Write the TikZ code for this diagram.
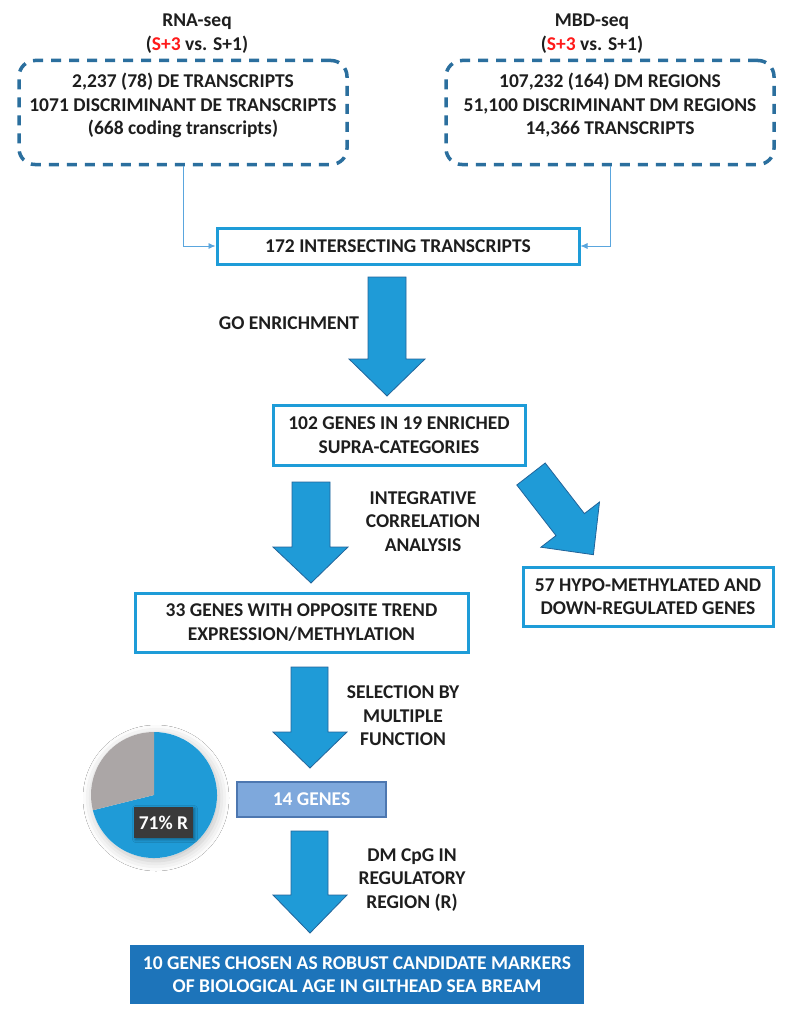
\documentclass[tikz,border=0pt]{standalone}
\usepackage{fontspec}
\setmainfont{Carlito}
\usepackage{tikz}
\usetikzlibrary{arrows.meta,shadows.blur}

\definecolor{inkgrey}{HTML}{1E1E1E}
\definecolor{seqred}{HTML}{FF1A1A}
\definecolor{dashblue}{HTML}{2B6F9E}
\definecolor{boxblue}{HTML}{1E9CD8}
\definecolor{linkblue}{HTML}{5AA6DE}
\definecolor{arrowblue}{HTML}{1F9BD7}
\definecolor{arrowedge}{HTML}{22649A}
\definecolor{genesfill}{HTML}{7EA8DC}
\definecolor{genesedge}{HTML}{4D77B0}
\definecolor{markerfill}{HTML}{1D74BA}
\definecolor{piegrey}{HTML}{ABA6A6}
\definecolor{tagdark}{HTML}{3A3A3A}

\tikzset{
	txt/.style={font=\bfseries\fontsize{19.5}{23.5}\selectfont, text=inkgrey, align=center, inner sep=0pt},
	dashbox/.style={draw=dashblue, line width=3.5pt, dash pattern=on 10pt off 8pt, rounded corners=16pt, minimum width=328pt, minimum height=104pt},
	stepbox/.style={txt, draw=boxblue, line width=3pt},
	link/.style={draw=linkblue, line width=0.8pt, -{Latex[length=7pt,width=6pt]}},
	bigarrow/.style={fill=arrowblue, draw=arrowedge, line width=0.8pt, line join=miter}
}

\begin{document}
\begin{tikzpicture}[x=1pt,y=-1pt]
	\fill[white] (0,0) rectangle (790,1014);
	\useasboundingbox (0,0) rectangle (790,1014);

	% sources
	\node[txt] (rnahead) at (197,33.5) {RNA-seq\\(\textcolor{seqred}{S+3} vs. S+1)};
	\node[txt] (mbdhead) at (592,33.5) {MBD-seq\\(\textcolor{seqred}{S+3} vs. S+1)};

	\node[dashbox] (rnabox) at (183,112.5) {};
	\node[txt] (rnatxt) at (183,105.5) {2,237 (78) DE TRANSCRIPTS\\1071 DISCRIMINANT DE TRANSCRIPTS\\(668 coding transcripts)};
	\node[dashbox] (mbdbox) at (610,112.5) {};
	\node[txt] (mbdtxt) at (610,105.5) {107,232 (164) DM REGIONS\\51,100 DISCRIMINANT DM REGIONS\\14,366 TRANSCRIPTS};

	% steps
	\node[stepbox, minimum width=362pt, minimum height=36pt] (inter) at (398,246) {172 INTERSECTING TRANSCRIPTS};
	\node[stepbox, minimum width=252pt, minimum height=60pt] (enrich) at (399,435) {102 GENES IN 19 ENRICHED\\SUPRA-CATEGORIES};
	\node[stepbox, minimum width=333pt, minimum height=59pt] (trend) at (301.5,622.5) {33 GENES WITH OPPOSITE TREND\\EXPRESSION/METHYLATION};
	\node[stepbox, minimum width=250pt, minimum height=59pt] (hypo) at (648,596.5) {57 HYPO-METHYLATED AND\\DOWN-REGULATED GENES};
	\node[txt, text=white, fill=genesfill, draw=genesedge, line width=1.2pt, minimum width=149pt, minimum height=35pt] (genes) at (311.5,799.5) {14 GENES};
	\node[txt, text=white, fill=markerfill, minimum width=454pt, minimum height=59pt] (markers) at (357,974.5) {10 GENES CHOSEN AS ROBUST CANDIDATE MARKERS\\OF BIOLOGICAL AGE IN GILTHEAD SEA BREAM};

	\draw[link] (rnabox.south) |- (inter.west);
	\draw[link] (mbdbox.south) |- (inter.east);

	% block arrows
	\draw[bigarrow] (368,277) -- (406,277) -- (406,359) -- (425,359) -- (387,396) -- (349,359) -- (368,359) -- cycle;
	\node[txt] (golbl) at (289,323) {GO ENRICHMENT};

	\draw[bigarrow] (292,482) -- (330,482) -- (330,547) -- (348,547) -- (311,583) -- (273,547) -- (292,547) -- cycle;
	\node[txt] (intlbl) at (423,521.5) {INTEGRATIVE\\CORRELATION\\ANALYSIS};

	\draw[bigarrow] (545.2,463.0) -- (584.4,513.6) -- (599.5,502.0) -- (593.4,554.7) -- (540.9,547.2) -- (556.0,535.6) -- (516.8,485.0) -- cycle;

	\draw[bigarrow] (291,667) -- (328,667) -- (328,732) -- (347,732) -- (310,768) -- (273,732) -- (291,732) -- cycle;
	\node[txt] (sellbl) at (403,716) {SELECTION BY\\MULTIPLE\\FUNCTION};

	\draw[bigarrow] (291,831) -- (328,831) -- (328,895) -- (347,895) -- (310,933) -- (273,895) -- (291,895) -- cycle;
	\node[txt] (cpglbl) at (412,880) {DM CpG IN\\REGULATORY\\REGION (R)};

	% pie
	\coordinate (pie) at (154,795);
	\fill[white, blur shadow={shadow xshift=2pt, shadow yshift=-3pt, shadow blur radius=10pt, shadow opacity=25}] (pie) circle (63pt);
	\fill[arrowblue] (pie) -- ++(194:63pt) arc[start angle=194, end angle=450, radius=63pt] -- cycle;
	\fill[piegrey] (pie) -- ++(90:63pt) arc[start angle=90, end angle=194, radius=63pt] -- cycle;
	\node[txt, text=white, fill=tagdark, minimum width=59pt, minimum height=31pt, blur shadow={shadow xshift=1.5pt, shadow yshift=-1.5pt, shadow blur radius=3pt, shadow opacity=40}] (share) at (163.5,822.5) {71\% R};
\end{tikzpicture}
\end{document}
